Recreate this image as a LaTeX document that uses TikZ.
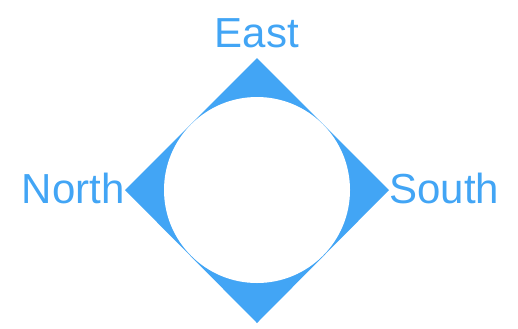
\documentclass[tikz,border=0pt]{standalone}
\usepackage{fontspec}
\setmainfont{Liberation Sans}
\usetikzlibrary{positioning}
\definecolor{sky}{RGB}{66,165,245}

\begin{document}
\begin{tikzpicture}[
  x=0.5pt, y=-0.5pt,
  lbl/.style={text=sky, font=\fontsize{21pt}{25pt}\selectfont, inner sep=0pt},
]
\useasboundingbox (0,0) rectangle (518,328);
\coordinate (top) at (257,58);
\coordinate (lft) at (125,190);
\coordinate (rgt) at (389,190);
\coordinate (bot) at (257,323);
\coordinate (mid) at (257,190);

\fill[sky] (top) -- (rgt) -- (bot) -- (lft) -- cycle;
\fill[white] (mid) circle[radius=93];

\node[lbl, anchor=base] (east) at (257,47) {East};
\node[lbl, anchor=base east] (north) at (125,203) {North};
\node[lbl, anchor=base west] (south) at (389,203) {South};
\end{tikzpicture}
\end{document}
